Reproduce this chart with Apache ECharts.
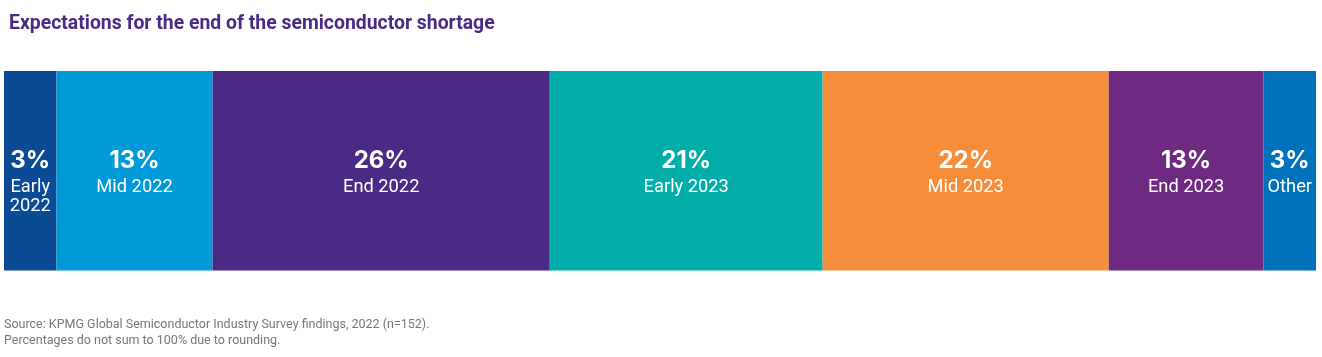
<!DOCTYPE html>
<html><head><meta charset="utf-8">
<script src="https://cdn.jsdelivr.net/npm/echarts@6/dist/echarts.min.js"></script>
<style>html,body{margin:0;padding:0;background:#fff}#c{width:1322px;height:357px}</style>
</head><body><div id="c"></div>
<script>
// Categories (segment names) and the printed percentages
const categories = ['Early\n2022', 'Mid 2022', 'End 2022', 'Early 2023', 'Mid 2023', 'End 2023', 'Other'];
const printedPct = ['3%', '13%', '26%', '21%', '22%', '13%', '3%'];
// Segment shares as drawn in the reference bar
const shares = [4.0, 11.9, 25.7, 20.8, 21.8, 11.8, 4.0];
const colors = ['#0B4A94', '#009AD9', '#4B2A85', '#00ADA8', '#F68D3A', '#6E2A80', '#0071BB'];

const total = shares.reduce((a, b) => a + b, 0);
const series = categories.map((name, i) => ({
  name: name,
  type: 'bar',
  stack: 'all',
  barWidth: '100%',
  data: [shares[i]],
  itemStyle: { color: colors[i] },
  label: {
    show: true,
    position: ['50%', 73],
    align: 'center',
    verticalAlign: 'top',
    formatter: () => '{p|' + printedPct[i] + '}\n' + name.split('\n').map(s => '{c|' + s + '}').join('\n'),
    rich: {
      p: { fontFamily: 'Inter', fontWeight: 'bold', fontSize: 24, lineHeight: 34, color: '#fff', align: 'center' },
      c: { fontFamily: 'Roboto', fontSize: 18.3, lineHeight: 19, color: '#fff', align: 'center' }
    }
  }
}));

const chart = echarts.init(document.getElementById('c'), null, { renderer: 'canvas' });
chart.setOption({
  animation: false,
  title: {
    text: 'Expectations for the end of the semiconductor shortage',
    left: 4, top: 10,
    textStyle: { fontFamily: 'Roboto', fontWeight: 'bold', fontSize: 19.4, color: '#4B2A85' }
  },
  graphic: [
    { type: 'text', left: 4, top: 318, style: { text: 'Source: KPMG Global Semiconductor Industry Survey findings, 2022 (n=152).', font: '12.5px Roboto', fill: '#777' } },
    { type: 'text', left: 4, top: 334, style: { text: 'Percentages do not sum to 100% due to rounding.', font: '12.5px Roboto', fill: '#777' } }
  ],
  grid: { left: 4, right: 6, top: 71, bottom: 86.5 },
  xAxis: { type: 'value', min: 0, max: total, show: false },
  yAxis: { type: 'category', data: ['shortage'], show: false },
  series: series
});
</script></body></html>
